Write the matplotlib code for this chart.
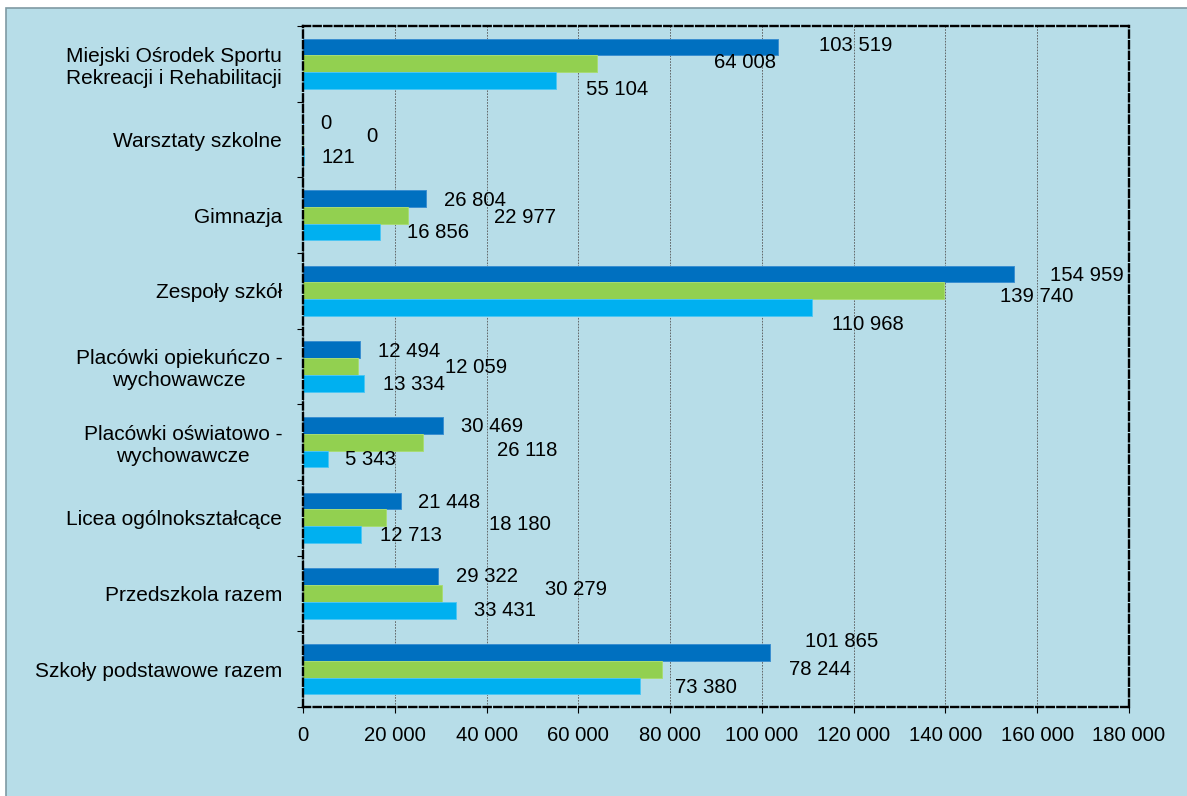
import matplotlib
matplotlib.use("Agg")
import matplotlib.pyplot as plt
from matplotlib.patches import Rectangle
import numpy as np

plt.rcParams['font.family'] = ['Liberation Sans', 'DejaVu Sans']

# categories top -> bottom
categories = ["Miejski Ośrodek Sportu\nRekreacji i Rehabilitacji",
              "Warsztaty szkolne",
              "Gimnazja",
              "Zespoły szkół",
              "Placówki opiekuńczo -\nwychowawcze",
              "Placówki oświatowo -\nwychowawcze",
              "Licea ogólnokształcące",
              "Przedszkola razem",
              "Szkoły podstawowe razem"]

series_dark = [103519, 0, 26804, 154959, 12494, 30469, 21448, 29322, 101865]
series_green = [64008, 0, 22977, 139740, 12059, 26118, 18180, 30279, 78244]
series_light = [55104, 121, 16856, 110968, 13334, 5343, 12713, 33431, 73380]

# label offsets (pixels) from bar end / bar centre, as placed in the original
off_dark = [(41, 2), (17, -1), (18, -2), (36, -1), (18, -2), (18, -1), (17, -1), (18, 0), (35, 11)]
off_green = [(117, 1), (63, 3), (86, -2), (56, -6), (87, -1), (74, -8), (103, -7), (103, 4), (127, 0)]
off_light = [(30, -9), (18, -1), (27, -1), (20, -17), (19, -1), (17, -1), (19, -1), (18, 0), (35, -2)]

xticks = np.arange(0, 180001, 20000)

bg = '#b7dde8'
c_dark = '#0070c0'
c_green = '#92d050'
c_light = '#00b0f0'


def fmt(v):
    return f"{v:,}".replace(",", " ")


fig = plt.figure(figsize=(11.87, 7.96), dpi=100)
fig.patch.set_facecolor('white')
fig.patches.append(Rectangle((6 / 1187, -0.01), 1.0, (796 - 8) / 796 + 0.01,
                             transform=fig.transFigure, facecolor=bg,
                             edgecolor='#7f9aa3', linewidth=1.2, zorder=-10))

ax = fig.add_axes([303 / 1187, (796 - 707) / 796, 826 / 1187, 681 / 796])
ax.set_facecolor('none')

n = len(categories)
pos = np.arange(n)
h = 0.222
groups = [(series_dark, c_dark, '#3a8fd0', -h, off_dark),
          (series_green, c_green, '#a8dc74', 0, off_green),
          (series_light, c_light, '#4cc6f4', h, off_light)]

for vals, col, edge, shift, offs in groups:
    ax.barh(pos + shift, vals, height=h, color=col, edgecolor=edge, linewidth=0.7, zorder=3)
    for i, v in enumerate(vals):
        dx, dy = offs[i]
        ax.annotate(fmt(v), (v, pos[i] + shift), xytext=(dx, dy),
                    textcoords='offset pixels', ha='left', va='center',
                    fontsize=14.6, color='black', zorder=5)

ax.set_xlim(0, 180000)
ax.set_ylim(n - 0.5, -0.5)

ax.set_xticks(xticks)
ax.set_xticklabels([fmt(t) for t in xticks], fontsize=14.6)
ax.set_yticks(pos)
ax.set_yticklabels(categories, fontsize=15, multialignment='center')
ax.tick_params(axis='y', length=0, pad=15)
ax.set_yticks(np.arange(-0.5, n, 1.0), minor=True)
ax.tick_params(axis='y', which='minor', length=4, width=0.8, direction='out')
ax.tick_params(axis='x', length=4, width=0.8, direction='out', pad=10)

ax.grid(axis='x', color='#555555', linestyle=(0, (2, 1.5)), linewidth=0.6, zorder=1)
ax.set_axisbelow(True)

for s in ax.spines.values():
    s.set_linestyle((0, (3, 1.5)))
    s.set_linewidth(1.7)
    s.set_color('black')
    s.set_zorder(4)

fig.savefig('out.png', dpi=100, facecolor=fig.get_facecolor())
